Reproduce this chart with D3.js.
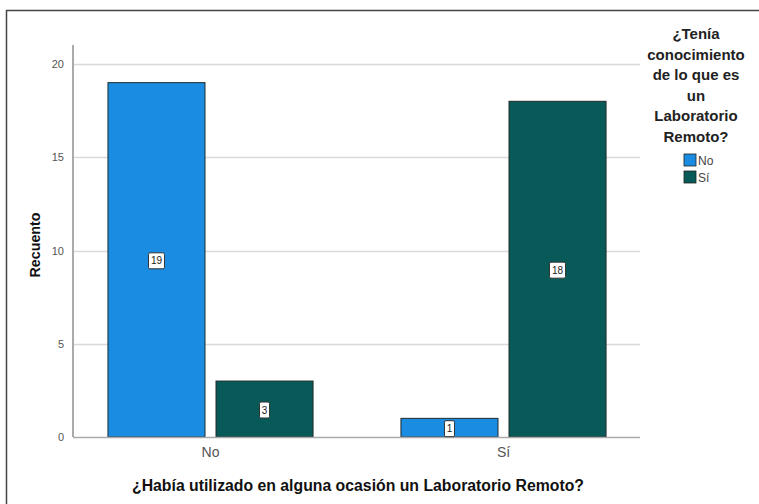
<!DOCTYPE html>
<html>
<head>
<meta charset="utf-8">
<script src="https://cdn.jsdelivr.net/npm/d3@7/dist/d3.min.js"></script>
<style>
  html, body { margin: 0; padding: 0; background: #fff; }
  svg { display: block; font-family: Arial, "Liberation Sans", sans-serif; }
</style>
</head>
<body>
<svg id="chart" width="759" height="504"></svg>
<script>
// Categories on the x axis (¿Había utilizado ...?)
const categories = ["No", "Sí"];
// Legend groups (¿Tenía conocimiento ...?)
const groups = ["No", "Sí"];
// Counts per category, one array per legend group
const countsNo = [19, 1];
const countsSi = [3, 18];
const yTicks = [0, 5, 10, 15, 20];
const colors = ["#1a8de3", "#075a58"];
const legendTitle = ["¿Tenía", "conocimiento", "de lo que es", "un", "Laboratorio", "Remoto?"];
const xTitle = "¿Había utilizado en alguna ocasión un Laboratorio Remoto?";
const yTitle = "Recuento";

const svg = d3.select("#chart");

// Outer frame (top and left edges)
svg.append("path")
  .attr("d", "M6.5,504 V10.5 H759")
  .attr("fill", "none").attr("stroke", "#444").attr("stroke-width", 1.5);

const plot = { left: 73, right: 640, top: 45, bottom: 437 };

const x0 = d3.scaleBand().domain(categories)
  .range([64, 650]).paddingInner(0.3).paddingOuter(0.15);
const x1 = d3.scaleBand().domain(groups).range([0, x0.bandwidth()]).paddingInner(0.102);
const y = d3.scaleLinear().domain([0, 20]).range([plot.bottom, 64]);

// Gridlines
svg.append("g").selectAll("line").data(yTicks.filter(d => d > 0)).join("line")
  .attr("x1", plot.left).attr("x2", plot.right)
  .attr("y1", d => Math.round(y(d)) + 0.5).attr("y2", d => Math.round(y(d)) + 0.5)
  .attr("stroke", "#d9d9d9").attr("stroke-width", 1.5);

// Y axis
const yAxis = svg.append("g").attr("transform", `translate(${plot.left},0)`)
  .call(d3.axisLeft(y).tickValues(yTicks).tickSize(0).tickPadding(9));
yAxis.select(".domain").remove();
yAxis.selectAll("text").attr("fill", "#555").attr("font-size", 11).attr("font-family", "Arial, sans-serif");
svg.append("line").attr("x1", plot.left).attr("x2", plot.left)
  .attr("y1", plot.top).attr("y2", plot.bottom)
  .attr("stroke", "#aaa").attr("stroke-width", 2);

// Bars
const series = [countsNo, countsSi];
const bars = [];
categories.forEach((c, ci) => {
  groups.forEach((g, gi) => {
    bars.push({ c, g, gi, v: series[gi][ci] });
  });
});

svg.append("g").selectAll("rect").data(bars).join("rect")
  .attr("x", d => x0(d.c) + x1(d.g))
  .attr("y", d => y(d.v))
  .attr("width", x1.bandwidth())
  .attr("height", d => y(0) - y(d.v))
  .attr("fill", d => colors[d.gi])
  .attr("stroke", "#1f2a2a").attr("stroke-width", 1);

// X axis baseline
svg.append("line").attr("x1", plot.left).attr("x2", plot.right)
  .attr("y1", plot.bottom + 0.5).attr("y2", plot.bottom + 0.5)
  .attr("stroke", "#aaa").attr("stroke-width", 1.5);

// Value labels in small boxes at mid-bar
const lab = svg.append("g").selectAll("g").data(bars).join("g")
  .attr("transform", d => `translate(${x0(d.c) + x1(d.g) + x1.bandwidth() / 2},${(y(d.v) + y(0)) / 2 + 1})`);
lab.append("rect")
  .attr("x", d => String(d.v).length > 1 ? -8 : -5).attr("y", -8)
  .attr("width", d => String(d.v).length > 1 ? 16 : 10).attr("height", 16)
  .attr("rx", 1.5)
  .attr("fill", "#fff").attr("stroke", "#333").attr("stroke-width", 1);
lab.append("text").text(d => d.v)
  .attr("text-anchor", "middle").attr("dy", "0.35em")
  .attr("font-size", 10).attr("fill", "#222");

// X tick labels
const xAxis = svg.append("g").attr("transform", `translate(0,${plot.bottom})`)
  .call(d3.axisBottom(x0).tickSize(0).tickPadding(10));
xAxis.select(".domain").remove();
xAxis.selectAll("text").attr("fill", "#555").attr("font-size", 14).attr("font-family", "Arial, sans-serif");

// Axis titles
svg.append("text").text(xTitle)
  .attr("x", 358).attr("y", 491).attr("text-anchor", "middle")
  .attr("font-size", 15.8).attr("font-weight", "bold").attr("fill", "#111");
svg.append("text").text(yTitle)
  .attr("transform", "translate(40,245) rotate(-90)").attr("text-anchor", "middle")
  .attr("font-size", 14.3).attr("font-weight", "bold").attr("fill", "#111");

// Legend
const lg = svg.append("g");
lg.selectAll("text.t").data(legendTitle).join("text").attr("class", "t")
  .text(d => d).attr("x", 696).attr("y", (d, i) => 39 + i * 20.6)
  .attr("text-anchor", "middle").attr("font-size", 15).attr("font-weight", "bold").attr("fill", "#222");
const items = lg.selectAll("g.item").data(groups).join("g").attr("class", "item")
  .attr("transform", (d, i) => `translate(684,${154 + i * 17})`);
items.append("rect").attr("width", 12).attr("height", 12)
  .attr("fill", (d, i) => colors[i]).attr("stroke", "#222").attr("stroke-width", 0.8);
items.append("text").text(d => d).attr("x", 14).attr("y", 10.5)
  .attr("font-size", 12).attr("fill", "#444");
</script>
</body>
</html>
